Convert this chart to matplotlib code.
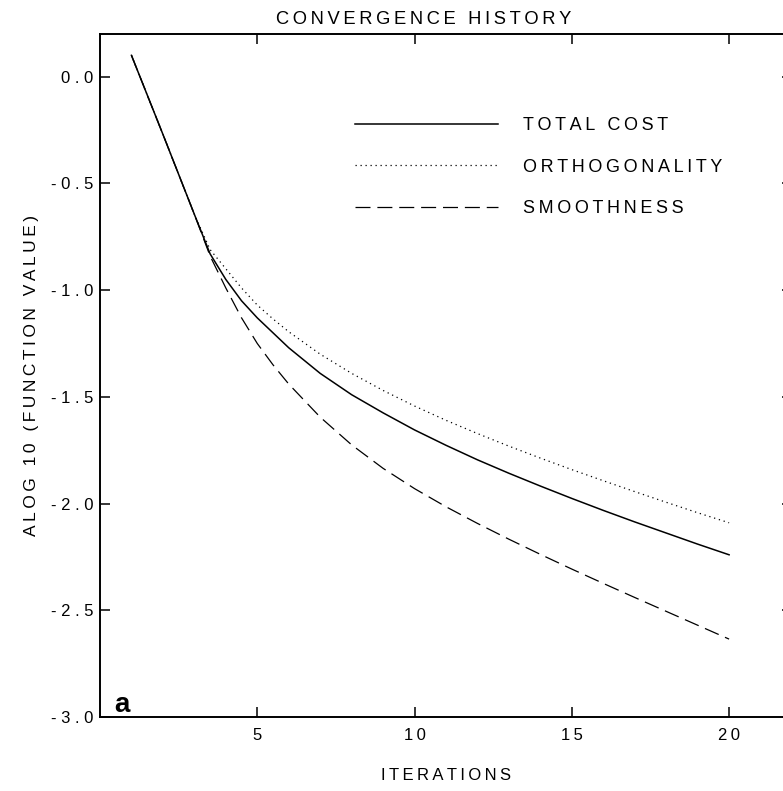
import numpy as np
import matplotlib.pyplot as plt

plt.rcParams['font.family'] = ['Liberation Sans', 'DejaVu Sans']

iters = [1, 2, 3, 3.5, 4, 4.5, 5, 5.5, 6, 7, 8, 9, 10, 11, 12, 13, 14, 15, 16, 17, 18, 19, 20]
total_cost = [0.10, -0.27, -0.645, -0.83, -0.95, -1.05, -1.13, -1.20, -1.27, -1.39, -1.49, -1.575,
              -1.655, -1.727, -1.795, -1.858, -1.918, -1.976, -2.032, -2.086, -2.138, -2.19, -2.24]
orthogonality = [0.10, -0.27, -0.645, -0.81, -0.90, -0.99, -1.07, -1.135, -1.195, -1.30, -1.39, -1.47,
                 -1.543, -1.61, -1.672, -1.731, -1.787, -1.841, -1.893, -1.944, -1.994, -2.043, -2.09]
smoothness = [0.10, -0.27, -0.645, -0.84, -0.99, -1.13, -1.25, -1.35, -1.44, -1.595, -1.725, -1.835,
              -1.93, -2.015, -2.093, -2.167, -2.238, -2.307, -2.374, -2.44, -2.505, -2.57, -2.635]

xticks = [5, 10, 15, 20]
yticks = [-3.0, -2.5, -2.0, -1.5, -1.0, -0.5, 0.0]
ytick_labels = ['-3.0', '-2.5', '-2.0', '-1.5', '-1.0', '-0.5', '0.0']

def rozstaw(s, sp='\u2009'):
    # szerokie odstepy miedzy literami jak w oryginale
    return sp.join(list(s))

fig = plt.figure(figsize=(7.83, 7.91), dpi=100)
ax = fig.add_axes([100/783, 74/791, 692/783, 683/791])

ax.plot(iters, total_cost, color='black', lw=1.1, label=rozstaw('TOTAL COST'))
ax.plot(iters, orthogonality, color='black', lw=0.9, linestyle=(0, (1, 3)), label=rozstaw('ORTHOGONALITY'))
ax.plot(iters, smoothness, color='black', lw=0.9, linestyle=(0, (12, 5.5)), label=rozstaw('SMOOTHNESS'))

ax.set_xlim(0, 22)
ax.set_ylim(-3.0, 0.2)
ax.set_xticks(xticks)
ax.set_xticklabels([rozstaw(str(v)) for v in xticks])
ax.set_yticks(yticks)
ax.set_yticklabels([rozstaw(s, ' ') for s in ytick_labels])
ax.tick_params(direction='in', length=7, width=1.1, top=True, right=True, labelsize=12, pad=5)
ax.tick_params(axis='x', pad=8)
for sp in ax.spines.values():
    sp.set_linewidth(1.4)

ax.set_xlabel(rozstaw('ITERATIONS'), fontsize=12, labelpad=18)
ax.set_ylabel(rozstaw('ALOG 10 (FUNCTION VALUE)'), fontsize=12.5, labelpad=8)
fig.text(424/783, 1 - 19/791, rozstaw('CONVERGENCE HISTORY'), fontsize=13.2,
         ha='center', va='center')

ax.text(0.02, 0.007, 'a', transform=ax.transAxes, fontsize=20, fontweight='bold',
        ha='left', va='baseline')

ax.legend(loc='upper left', bbox_to_anchor=(0.369, 0.878), frameon=False, fontsize=13,
          handlelength=7.9, handletextpad=1.4, labelspacing=1.35, borderpad=0, borderaxespad=0)

plt.savefig('out.png', dpi=100)
